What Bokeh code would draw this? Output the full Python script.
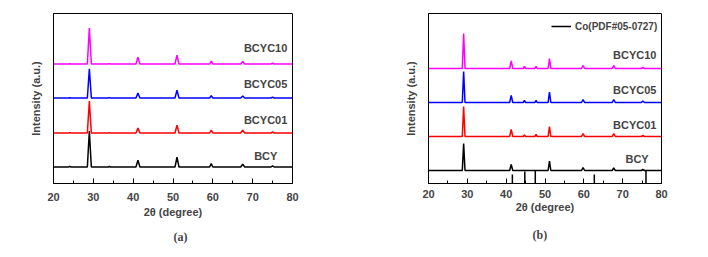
from bokeh.plotting import figure
from bokeh.layouts import row
from bokeh.models import Range1d, Label, Legend, LegendItem, FixedTicker, Title
from bokeh.embed import file_html
from bokeh.resources import INLINE

# ---------------- data: panel (a) ----------------
xa = [20, 23.8, 24.1, 24.4, 28.5, 29.0, 29.5, 33.7, 34.0, 34.3, 40.7, 41.2, 41.7,
      50.5, 51.0, 51.5, 59.2, 59.6, 60.0, 67.0, 67.5, 68.0, 74.6, 75.0, 75.4, 80]
a_bcy    = [0, 0, 0.6, 0, 0, 37, 0, 0, 0.5, 0, 0, 7, 0, 0, 10, 0, 0, 3.5, 0, 0, 3, 0, 0, 1.2, 0, 0]
a_bcyc01 = [0, 0, 0.4, 0, 0, 33, 0, 0, 0.4, 0, 0, 5, 0, 0, 8, 0, 0, 3, 0, 0, 3, 0, 0, 1, 0, 0]
a_bcyc05 = [0, 0, 0.3, 0, 0, 30, 0, 0, 0.4, 0, 0, 5, 0, 0, 8, 0, 0, 2.5, 0, 0, 2, 0, 0, 1, 0, 0]
a_bcyc10 = [0, 0, 0.3, 0, 0, 37, 0, 0, 0.4, 0, 0, 7, 0, 0, 9, 0, 0, 3, 0, 0, 2.5, 0, 0, 1, 0, 0]
a_offsets = [17, 52, 88, 123]

# ---------------- data: panel (b) ----------------
xb = [20, 28.7, 29.05, 29.4, 40.9, 41.3, 41.7, 44.4, 44.7, 45.0, 47.4, 47.7, 48.0,
      50.8, 51.15, 51.5, 59.4, 59.8, 60.2, 67.3, 67.7, 68.1, 74.8, 75.2, 75.6, 80]
b_bcy    = [0, 0, 27, 0, 0, 6, 0, 0, 0, 0, 0, 0, 0, 0, 9.5, 0, 0, 3, 0, 0, 2.5, 0, 0, 1, 0, 0]
b_bcyc01 = [0, 0, 30, 0, 0, 7, 0, 0, 1.5, 0, 0, 2, 0, 0, 10, 0, 0, 3, 0, 0, 3, 0, 0, 1, 0, 0]
b_bcyc05 = [0, 0, 31, 0, 0, 7, 0, 0, 2, 0, 0, 2, 0, 0, 10.5, 0, 0, 3, 0, 0, 3, 0, 0, 1.5, 0, 0]
b_bcyc10 = [0, 0, 35, 0, 0, 7.5, 0, 0, 2, 0, 0, 2, 0, 0, 10, 0, 0, 3, 0, 0, 3, 0, 0, 1, 0, 0]
b_offsets = [13, 47, 81, 115]

co_pos = [41.6, 44.8, 47.5, 62.7, 76.0]
co_int = [9, 12, 13, 9, 13]

names = ["BCY", "BCYC01", "BCYC05", "BCYC10"]
colors = ["#000000", "#ff0000", "#0000ff", "#ff00ff"]
x_ticks = [20, 30, 40, 50, 60, 70, 80]
x_minor = [25, 35, 45, 55, 65, 75]

FONT = "Liberation Sans"


def style(p, label_standoff, title_standoff):
    p.outline_line_color = "black"
    p.outline_line_width = 1
    p.xgrid.visible = False
    p.ygrid.visible = False
    p.background_fill_color = "white"
    p.border_fill_color = "white"
    ax = p.xaxis[0]
    ax.ticker = FixedTicker(ticks=x_ticks, minor_ticks=x_minor)
    ax.major_tick_in = 5
    ax.major_tick_out = 0
    ax.minor_tick_in = 3
    ax.minor_tick_out = 0
    ax.major_label_text_font = FONT
    ax.major_label_text_font_style = "bold"
    ax.major_label_text_font_size = "11px"
    ax.major_label_standoff = label_standoff
    ax.axis_label = "2θ (degree)"
    ax.axis_label_text_font = FONT
    ax.axis_label_text_font_style = "bold"
    ax.axis_label_text_font_size = "11px"
    ax.axis_label_standoff = title_standoff
    ay = p.yaxis[0]
    ay.ticker = FixedTicker(ticks=[])
    ay.major_tick_in = 0
    ay.major_tick_out = 0
    ay.minor_tick_in = 0
    ay.minor_tick_out = 0
    ay.major_label_text_font_size = "0px"
    ay.axis_label = "Intensity (a.u.)"
    ay.axis_label_text_font = FONT
    ay.axis_label_text_font_style = "bold"
    ay.axis_label_text_font_size = "11px"
    ay.axis_label_standoff = 12


def add_label(p, x, y, text):
    p.add_layout(Label(x=x, y=y, text=text, text_align="right", text_baseline="middle",
                       text_font=FONT, text_font_style="bold", text_font_size="11px"))


def add_caption(p, text, offset, standoff):
    p.add_layout(Title(text=text, align="left", text_font="Liberation Serif",
                       text_font_style="bold", text_font_size="12px",
                       standoff=standoff, offset=offset, vertical_align="middle"), "below")


# ---------------- panel (a) ----------------
pa = figure(width=354, height=257, output_backend="svg", toolbar_location=None,
            x_range=Range1d(20, 80), y_range=Range1d(0, 175),
            min_border_left=53, min_border_right=62, min_border_top=12, min_border_bottom=70)
style(pa, 9, 2)
for ys, off, c in zip([a_bcy, a_bcyc01, a_bcyc05, a_bcyc10], a_offsets, colors):
    pa.line(xa, [v + off for v in ys], line_color=c, line_width=1.5)
add_label(pa, 76.2, 28, "BCY")
add_label(pa, 78.7, 65, "BCYC01")
add_label(pa, 78.7, 102, "BCYC05")
add_label(pa, 78.7, 139, "BCYC10")
add_caption(pa, "(a)", 120, 17)

# ---------------- panel (b) ----------------
pb = figure(width=354, height=257, output_backend="svg", toolbar_location=None,
            x_range=Range1d(20, 80), y_range=Range1d(0, 170),
            min_border_left=74, min_border_right=47, min_border_top=13, min_border_bottom=74)
style(pb, 6, 0)
for ys, off, c in zip([b_bcy, b_bcyc01, b_bcyc05, b_bcyc10], b_offsets, colors):
    pb.line(xb, [v + off for v in ys], line_color=c, line_width=1.5)
co = pb.segment(x0=co_pos, y0=[0] * len(co_pos), x1=co_pos, y1=co_int,
                line_color="black", line_width=1.5)
add_label(pb, 76.7, 25, "BCY")
add_label(pb, 78.7, 59, "BCYC01")
add_label(pb, 78.7, 94, "BCYC05")
add_label(pb, 78.7, 129, "BCYC10")
leg = Legend(items=[LegendItem(label="Co(PDF#05-0727)", renderers=[co])],
             location=(123, 151), border_line_color=None, background_fill_alpha=0,
             margin=0, padding=0, glyph_width=20, glyph_height=12, label_height=12,
             label_standoff=4, label_text_font=FONT, label_text_font_style="bold",
             label_text_font_size="10px")
pb.add_layout(leg)
add_caption(pb, "(b)", 104, 23)

layout = row(pa, pb)
open("out.html", "w").write(file_html(layout, INLINE))
